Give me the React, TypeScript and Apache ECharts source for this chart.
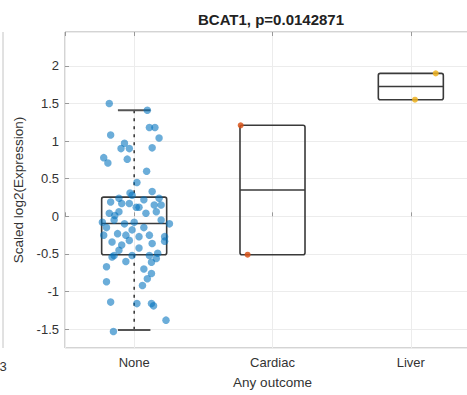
import React, { useEffect, useRef } from "react";
import * as echarts from "echarts";

const categories = ["None", "Cardiac", "Liver"];
const titleText = "BCAT1, p=0.0142871";
const yAxisName = "Scaled log2(Expression)";
const xAxisName = "Any outcome";

// box statistics: [category position, min, q1, median, q3, max]
const boxStats = [
  [1, -1.51, -0.51, -0.095, 0.255, 1.41],
  [2, -0.51, -0.51, 0.35, 1.21, 1.21],
  [3, 1.55, 1.55, 1.725, 1.9, 1.9],
];

// None group: expression values and horizontal jitter
const noneValues = [
  1.5, 1.41, 1.18, 1.18, 1.08, 1.04, 0.97, 0.9, 0.9, 0.91,
  0.78, 0.71, 0.76, 0.6, 0.45, 0.33, 0.31, 0.28, 0.19, 0.17,
  0.17, 0.12, 0.15, 0.15, 0.04, 0.06, 0.04, 0.06, -0.08, -0.05,
  -0.1, -0.08, -0.05, -0.1, -0.25, -0.23, -0.25, -0.27, -0.25, -0.27,
  -0.34, -0.38, -0.32, -0.36, -0.33, -0.52, -0.52, -0.52, -0.49, -0.54,
  -0.56, -0.61, -0.67, -0.76, -0.83, -0.92, -0.87, -1.14, -1.16, -1.16,
  -1.19, -1.38, -1.53, 0.01, 0.12, 0.22, 0.24, 0.24, -0.18, -0.15,
  -0.15, -0.45, -0.42, -0.6, -0.7,
];
const noneJitter = [
  -0.18, 0.095, 0.11, 0.15, -0.17, 0.18, -0.07, -0.095, -0.035, 0.13,
  -0.22, -0.19, -0.05, 0.09, 0.02, 0.13, -0.03, -0.015, -0.17, -0.09,
  -0.035, 0.035, 0.145, 0.195, -0.18, -0.11, 0.085, 0.16, -0.23, -0.145,
  -0.07, 0.0, 0.195, 0.255, -0.22, -0.12, -0.06, 0.035, 0.11, 0.22,
  -0.16, -0.09, -0.035, 0.13, 0.22, -0.145, -0.015, 0.11, 0.17, -0.16,
  0.16, 0.125, -0.2, 0.125, 0.095, 0.06, -0.2, -0.17, 0.02, 0.125,
  0.14, 0.23, -0.15, -0.14, 0.015, 0.07, -0.11, 0.18, -0.015, 0.07,
  -0.2, -0.11, 0.035, -0.06, 0.07,
];

const cardiacValues = [1.21, -0.51];
const cardiacJitter = [-0.23, -0.18];
const liverValues = [1.9, 1.55];
const liverJitter = [0.18, 0.03];

const FONT = "'Liberation Sans', Arial, Helvetica, sans-serif";

export default function App() {
  const ref = useRef<HTMLDivElement>(null);

  useEffect(() => {
    if (!ref.current) return;
    const chart = echarts.init(ref.current, null, { renderer: "svg" });
    const boxHalf = 0.235;

    const renderBox = (params: any, api: any) => {
      const x = api.value(0);
      const mn = api.value(1);
      const q1 = api.value(2);
      const md = api.value(3);
      const q3 = api.value(4);
      const mx = api.value(5);
      const pL = api.coord([x - boxHalf, q3]);
      const pR = api.coord([x + boxHalf, q1]);
      const pMed = api.coord([x, md]);
      const pMax = api.coord([x, mx]);
      const pMin = api.coord([x, mn]);
      const capL = api.coord([x - boxHalf / 2, mx])[0];
      const capR = api.coord([x + boxHalf / 2, mx])[0];
      const stroke = "#3a3a3a";
      const children: any[] = [];
      if (mx > q3) {
        children.push({
          type: "line",
          shape: { x1: pMax[0], y1: pMax[1], x2: pMax[0], y2: pL[1] },
          style: { stroke: "#222", lineWidth: 1.4, lineDash: [3, 5] },
        });
        children.push({
          type: "line",
          shape: { x1: capL, y1: pMax[1], x2: capR, y2: pMax[1] },
          style: { stroke: "#555", lineWidth: 2 },
        });
      }
      if (mn < q1) {
        children.push({
          type: "line",
          shape: { x1: pMin[0], y1: pR[1], x2: pMin[0], y2: pMin[1] },
          style: { stroke: "#222", lineWidth: 1.4, lineDash: [3, 5] },
        });
        children.push({
          type: "line",
          shape: { x1: capL, y1: pMin[1], x2: capR, y2: pMin[1] },
          style: { stroke: "#555", lineWidth: 2 },
        });
      }
      children.push({
        type: "rect",
        shape: { x: pL[0], y: pL[1], width: pR[0] - pL[0], height: pR[1] - pL[1], r: 2 },
        style: { fill: "none", stroke, lineWidth: 1.6 },
      });
      children.push({
        type: "line",
        shape: { x1: pL[0], y1: pMed[1], x2: pR[0], y2: pMed[1] },
        style: { stroke, lineWidth: 1.6 },
      });
      return { type: "group", children };
    };

    const option: any = {
      animation: false,
      backgroundColor: "#ffffff",
      title: {
        text: titleText,
        left: 271,
        top: 12,
        padding: 0,
        textAlign: "center",
        textStyle: { fontFamily: FONT, fontSize: 15, fontWeight: "bold", color: "#222" },
      },
      grid: {
        left: 65,
        right: -13,
        top: 32,
        bottom: 47,
        containLabel: false,
        outerBoundsMode: "none",
        show: true,
        borderColor: "#a8a8a8",
        borderWidth: 1,
        backgroundColor: "transparent",
      },
      xAxis: [
        {
          type: "value",
          min: 0.5,
          max: 3.5,
          splitNumber: 3,
          name: xAxisName,
          nameLocation: "middle",
          nameGap: 27,
          nameTextStyle: { fontFamily: FONT, fontSize: 13.5, color: "#333" },
          axisLine: { show: false },
          axisTick: { show: true, inside: true, length: 4, lineStyle: { color: "#999" } },
          axisLabel: {
            fontFamily: FONT,
            fontSize: 13,
            color: "#333",
            margin: 8,
            formatter: (v: number) => {
              const i = Math.round(v);
              return Math.abs(v - i) < 1e-6 && i >= 1 && i <= categories.length ? categories[i - 1] : "";
            },
          },
          splitLine: { show: true, lineStyle: { color: "#ececec", width: 1 } },
        },
        {
          type: "value",
          position: "top",
          min: 0.5,
          max: 3.5,
          splitNumber: 3,
          axisLine: { show: false },
          axisTick: { show: true, inside: true, length: 4, lineStyle: { color: "#999" } },
          axisLabel: { show: false },
          splitLine: { show: false },
        },
      ],
      yAxis: {
        type: "value",
        min: -1.75,
        max: 2.45,
        splitNumber: 8,
        name: yAxisName,
        nameLocation: "middle",
        nameGap: 36,
        nameTextStyle: { fontFamily: FONT, fontSize: 13.5, color: "#333" },
        axisLine: { show: false },
        axisTick: { show: true, inside: true, length: 4, lineStyle: { color: "#999" } },
        axisLabel: {
          fontFamily: FONT,
          fontSize: 13,
          color: "#333",
          margin: 6,
          showMinLabel: false,
          showMaxLabel: false,
          formatter: (v: number) => {
            const r = Math.round(v * 2) / 2;
            return Math.abs(v - r) < 1e-6 ? String(r) : "";
          },
        },
        splitLine: { show: true, lineStyle: { color: "#ececec", width: 1 } },
      },
      graphic: [
        {
          type: "line",
          shape: { x1: 3, y1: 32, x2: 3, y2: 348 },
          style: { stroke: "#c4c4c4", lineWidth: 1 },
        },
        {
          type: "text",
          x: 3,
          y: 366,
          style: {
            text: "3",
            fontFamily: FONT,
            fontSize: 13,
            fill: "#333",
            textAlign: "center",
            textVerticalAlign: "middle",
          },
        },
      ],
      series: [
        {
          type: "custom",
          name: "boxes",
          renderItem: renderBox,
          data: boxStats,
          encode: { x: 0, y: [1, 2, 3, 4, 5] },
          z: 2,
        },
        {
          type: "scatter",
          name: "None",
          symbolSize: 7.5,
          itemStyle: { color: "#0072BD", opacity: 0.58 },
          data: noneValues.map((v, i) => [1 + noneJitter[i], v]),
          z: 3,
        },
        {
          type: "scatter",
          name: "Cardiac",
          symbolSize: 6,
          itemStyle: { color: "#D95319", opacity: 0.85 },
          data: cardiacValues.map((v, i) => [2 + cardiacJitter[i], v]),
          z: 3,
        },
        {
          type: "scatter",
          name: "Liver",
          symbolSize: 6,
          itemStyle: { color: "#EDB120", opacity: 0.85 },
          data: liverValues.map((v, i) => [3 + liverJitter[i], v]),
          z: 3,
        },
      ],
    };

    chart.setOption(option);
    return () => chart.dispose();
  }, []);

  return <div ref={ref} style={{ width: 467, height: 395, position: "absolute", left: 0, top: 0 }} />;
}
